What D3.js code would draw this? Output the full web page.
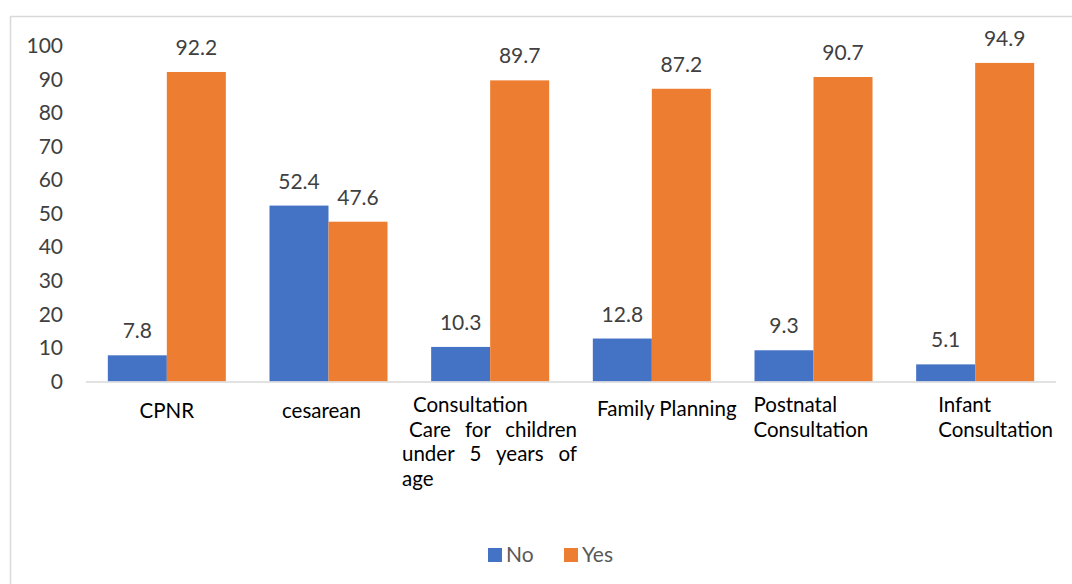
<!DOCTYPE html>
<html>
<head>
<meta charset="utf-8">
<script src="https://cdn.jsdelivr.net/npm/d3@7"></script>
<style>
  html, body { margin: 0; padding: 0; background: #fff; }
  svg { display: block; font-family: Lato, "Noto Sans", sans-serif; }
</style>
</head>
<body>
<svg id="chart" width="1072" height="584"></svg>
<script>
// Service use by category: share answering No / Yes (%)
const categories = ["CPNR", "cesarean", "Consultation Care for children under 5 years of age",
  "Family Planning", "Postnatal Consultation", "Infant Consultation"];
const noValues  = [7.8, 52.4, 10.3, 12.8, 9.3, 5.1];
const yesValues = [92.2, 47.6, 89.7, 87.2, 90.7, 94.9];
const seriesNames = ["No", "Yes"];
const yTicks = [0, 10, 20, 30, 40, 50, 60, 70, 80, 90, 100];
// Wrapped category label lines
const labelLines = [
  ["CPNR"],
  ["cesarean"],
  ["Consultation", "Care for children", "under 5 years of", "age"],
  ["Family Planning"],
  ["Postnatal", "Consultation"],
  ["Infant", "Consultation"]
];

const colors = ["#4472C4", "#ED7D31"];
const svg = d3.select("#chart");
const font = "Lato, 'Noto Sans', sans-serif";

// Outer chart frame
svg.append("rect")
  .attr("x", 10.5).attr("y", 16.5)
  .attr("width", 1080).attr("height", 600)
  .attr("fill", "none").attr("stroke", "#D9D9D9").attr("stroke-width", 1.5);

const plot = { left: 86, right: 1056, top: 45.8, bottom: 381.5 };

const x0 = d3.scaleBand().domain(d3.range(categories.length))
  .range([plot.left, plot.right]).paddingInner(0.27).paddingOuter(0.135);
const x1 = d3.scaleBand().domain(seriesNames).range([0, x0.bandwidth()]);
const y = d3.scaleLinear().domain([0, 100]).range([plot.bottom, plot.top]);

// Y axis labels (no axis line)
const yAxis = d3.axisLeft(y).tickValues(yTicks).tickSize(0).tickPadding(0);
const yg = svg.append("g").attr("transform", `translate(${63},0)`).call(yAxis);
yg.select(".domain").remove();
yg.selectAll("text")
  .attr("font-family", font)
  .attr("font-size", 21).attr("fill", "#404040");

// Bars
const rows = categories.map((c, i) => ({ i, values: [noValues[i], yesValues[i]] }));
const groups = svg.append("g").selectAll("g").data(rows).join("g")
  .attr("transform", d => `translate(${x0(d.i)},0)`);

groups.selectAll("rect").data(d => d.values.map((v, k) => ({ k, v })))
  .join("rect")
  .attr("x", d => x1(seriesNames[d.k]))
  .attr("y", d => y(d.v))
  .attr("width", x1.bandwidth())
  .attr("height", d => y(0) - y(d.v))
  .attr("fill", d => colors[d.k]);

// Value labels
groups.selectAll("text").data(d => d.values.map((v, k) => ({ k, v })))
  .join("text")
  .attr("x", d => x1(seriesNames[d.k]) + x1.bandwidth() / 2)
  .attr("y", d => y(d.v) - 17)
  .attr("text-anchor", "middle")
  .attr("font-size", 21).attr("fill", "#404040")
  .text(d => d.v.toFixed(1));

// Baseline
svg.append("line")
  .attr("x1", plot.left).attr("x2", plot.right)
  .attr("y1", y(0) + 0.5).attr("y2", y(0) + 0.5)
  .attr("stroke", "#D9D9D9").attr("stroke-width", 1.5);

// Category labels; justified lines spread their words across [left, right]
const labelLayout = [
  { anchor: "middle", dx: 0,   y0: 418 },
  { anchor: "middle", dx: -7,  y0: 418 },
  { anchor: "start",  dx: -89, y0: 412,
    lines: [{ left: 413 }, { left: 409, right: 577 }, { left: 402, right: 577 }, { left: 402 }] },
  { anchor: "middle", dx: 15,  y0: 416 },
  { anchor: "start",  dx: -60, y0: 412 },
  { anchor: "start",  dx: -37, y0: 412 }
];
const lineGap = 24.5;
const catSize = 20.5;
const catG = svg.append("g");
labelLines.forEach((lines, i) => {
  const lay = labelLayout[i];
  const cx = x0(i) + x0.bandwidth() / 2 + lay.dx;
  lines.forEach((ln, j) => {
    const ly = lay.y0 + j * lineGap;
    const spec = lay.lines ? lay.lines[j] : null;
    if (spec && spec.right !== undefined) {
      const words = ln.split(" ");
      const tmp = words.map(w => catG.append("text")
        .attr("y", ly).attr("font-size", catSize).attr("fill", "#000").text(w));
      const widths = tmp.map(t => t.node().getComputedTextLength());
      const gap = (spec.right - spec.left - d3.sum(widths)) / (words.length - 1);
      let xx = spec.left;
      tmp.forEach((t, k) => { t.attr("x", xx); xx += widths[k] + gap; });
    } else {
      catG.append("text")
        .attr("x", spec ? spec.left : cx).attr("y", ly)
        .attr("text-anchor", spec ? "start" : lay.anchor)
        .attr("font-size", catSize).attr("fill", "#000")
        .text(ln);
    }
  });
});

// Legend
const legend = svg.append("g").attr("transform", "translate(488,548)");
const items = legend.selectAll("g").data(seriesNames).join("g")
  .attr("transform", (d, i) => `translate(${i * 76},0)`);
items.append("rect").attr("width", 14).attr("height", 14)
  .attr("fill", (d, i) => colors[i]);
items.append("text").attr("x", 18).attr("y", 14)
  .attr("font-size", 21).attr("fill", "#595959").text(d => d);
</script>
</body>
</html>
